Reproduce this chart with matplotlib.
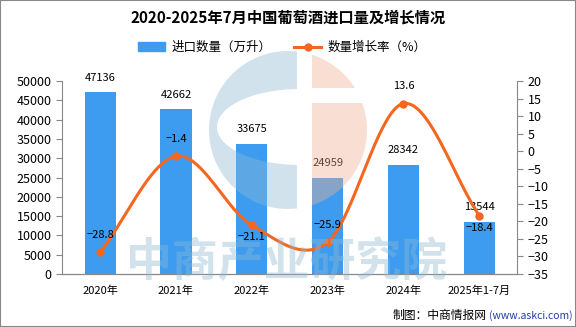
import numpy as np
import matplotlib
matplotlib.use("Agg")
import matplotlib.pyplot as plt
from matplotlib.patches import Rectangle, Polygon, PathPatch
from matplotlib.path import Path
from matplotlib.lines import Line2D

plt.rcParams['font.family'] = ['Noto Sans CJK SC', 'DejaVu Sans']
plt.rcParams['axes.unicode_minus'] = True

years = ["2020年", "2021年", "2022年", "2023年", "2024年", "2025年1-7月"]
volume = [47136, 42662, 33675, 24959, 28342, 13544]
growth = [-28.8, -1.4, -21.1, -25.9, 13.6, -18.4]

bar_color = "#3d9cf0"
line_color = "#f5661f"
wm_blue = (143 / 255, 184 / 255, 212 / 255)
wm_peach = (242 / 255, 177 / 255, 147 / 255)


def smooth(xs, ys, n=40):
    # catmull-rom style curve through the points
    xs = np.asarray(xs, float)
    ys = np.asarray(ys, float)
    px = np.concatenate([[2 * xs[0] - xs[1]], xs, [2 * xs[-1] - xs[-2]]])
    py = np.concatenate([[2 * ys[0] - ys[1]], ys, [2 * ys[-1] - ys[-2]]])
    out_x, out_y = [], []
    for i in range(1, len(px) - 2):
        t = np.linspace(0, 1, n)
        for p, o in ((px, out_x), (py, out_y)):
            p0, p1, p2, p3 = p[i - 1], p[i], p[i + 1], p[i + 2]
            o.extend(0.5 * ((2 * p1) + (-p0 + p2) * t
                            + (2 * p0 - 5 * p1 + 4 * p2 - p3) * t ** 2
                            + (-p0 + 3 * p1 - 3 * p2 + p3) * t ** 3))
    return out_x, out_y


fig = plt.figure(figsize=(5.76, 3.27), dpi=100)
fig.patches.append(Rectangle((0, 0), 1, 1, transform=fig.transFigure,
                             fill=False, edgecolor="#888888", lw=1.5))

ax = fig.add_axes([0.108, 0.162, 0.79, 0.59])
ax2 = ax.twinx()
ax.set_zorder(ax2.get_zorder() - 1)
ax2.patch.set_visible(False)

x = np.arange(len(years))
ax.bar(x, volume, width=0.41, color=bar_color)
for xi, v in zip(x, volume):
    ax.text(xi, v + 2500, str(v), ha="center", va="bottom", fontsize=8)

sx, sy = smooth(x, growth)
ax2.plot(sx, sy, color=line_color, lw=2.2)
ax2.plot(x, growth, "o", color=line_color, ms=5)
below = {2, 5}
for i, (xi, g) in enumerate(zip(x, growth)):
    dy = -3.4 if i in below else 5.0
    ax2.text(xi, g + dy, f"{g:.1f}".replace("-", "−"), ha="center", va="center", fontsize=8)

ax.set_xlim(-0.5, 5.5)
ax.set_ylim(0, 50000)
ax.set_yticks(range(0, 50001, 5000))
ax2.set_ylim(-35, 20)
ax2.set_yticks(range(-35, 21, 5))
ax.set_xticks(x)
ax.set_xticklabels(years, fontsize=8)

for a in (ax, ax2):
    a.spines["top"].set_visible(False)
    a.tick_params(axis="y", labelsize=9, color="#888888", length=4)
    for s in a.spines.values():
        s.set_color("#888888")
ax.spines["right"].set_visible(False)
ax2.spines["left"].set_visible(False)
ax.tick_params(axis="x", length=0, pad=8)

# watermark overlay in pixel coordinates
wm = fig.add_axes([0, 0, 1, 1], zorder=10)
wm.set_xlim(0, 576)
wm.set_ylim(327, 0)
wm.axis("off")
cx, cy, r = 288, 130, 79
th = np.linspace(np.pi / 2, 3 * np.pi / 2, 100)
# left blue part with an elliptical hole
outer = [(297, cy - np.sqrt(r ** 2 - 9 ** 2))] + \
        [(cx + r * np.cos(t), cy - r * np.sin(t)) for t in th] + \
        [(297, cy + np.sqrt(r ** 2 - 9 ** 2))]
hole_t = np.linspace(np.pi / 2, 3 * np.pi / 2, 60)
hole = [(min(300 + 83 * np.cos(t), 297), 127 - 38 * np.sin(t)) for t in hole_t]
verts = outer + [outer[0]] + hole[::-1] + [hole[-1]]
codes = [Path.MOVETO] + [Path.LINETO] * (len(outer) - 1) + [Path.CLOSEPOLY] + \
        [Path.MOVETO] + [Path.LINETO] * (len(hole) - 1) + [Path.CLOSEPOLY]
wm.add_patch(PathPatch(Path(verts, codes), facecolor=wm_blue, edgecolor="none", alpha=0.4))
# right peach part, split by a white band
for y0, y1 in ((cy - r, 88), (103, cy + r)):
    ys = np.linspace(y0, y1, 60)
    xr = cx + np.sqrt(np.clip(r ** 2 - (ys - cy) ** 2, 0, None))
    pts = [(312, y) for y in ys] + [(max(x_, 312), y) for x_, y in zip(xr[::-1], ys[::-1])]
    wm.add_patch(Polygon(pts, closed=True, facecolor=wm_peach, edgecolor="none", alpha=0.4))
wm.text(287, 263, "中商产业研究院", ha="center", va="center", fontsize=33,
        color=wm_blue, alpha=0.4, fontweight="bold")

fig.text(0.5, 0.945, "2020-2025年7月中国葡萄酒进口量及增长情况", ha="center",
         va="center", fontsize=11, fontweight="bold")

handles = [Rectangle((0, 0), 1, 1, color=bar_color),
           Line2D([0], [0], color=line_color, lw=2.2, marker="o", ms=5)]
fig.legend(handles, ["进口数量（万升）", "数量增长率（%）"], loc="center",
           bbox_to_anchor=(0.49, 0.855), ncol=2, frameon=False, fontsize=9,
           handlelength=2.2, columnspacing=1.8, handletextpad=0.5)

fig.text(0.845, 0.035, "制图：中商情报网", ha="right", va="center", fontsize=8.5)
fig.text(0.995, 0.035, "(www.askci.com)", ha="right", va="center", fontsize=7.5,
         color="#1f3f9f")

fig.savefig("out.png", dpi=100)
